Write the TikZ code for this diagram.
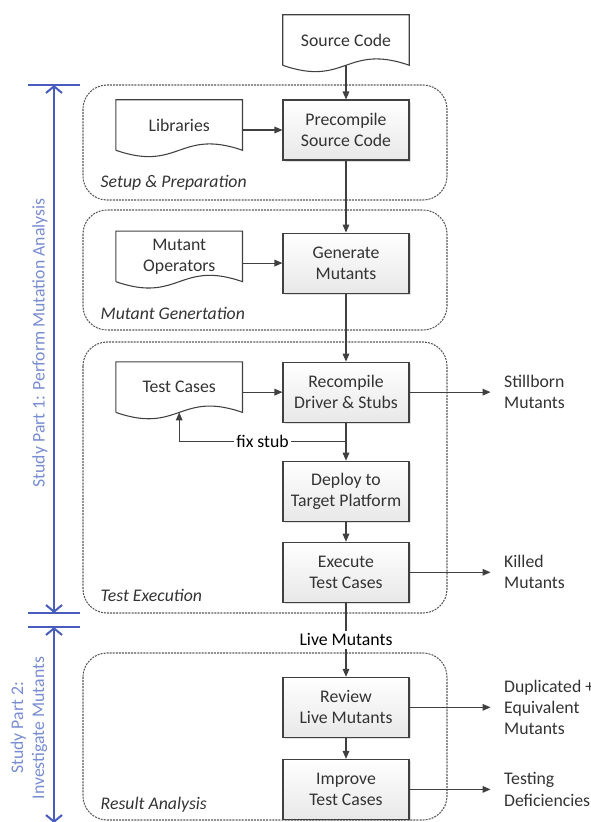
\documentclass[tikz,border=0pt]{standalone}
\usepackage{fontspec}
\setmainfont{Carlito}
\usetikzlibrary{arrows.meta, positioning, calc, shadows}

\definecolor{linegray}{RGB}{64,64,64}
\definecolor{studyblue}{RGB}{72,92,190}
\definecolor{studytext}{RGB}{120,140,210}

% document shape with a wavy bottom edge
\newcommand{\wavedoc}[1]{%
  \draw[docline] (#1.south west) -- (#1.north west) -- (#1.north east) -- (#1.south east)
    .. controls ($(#1.south east)+(-63,-22)$) and ($(#1.south west)+(63,22)$) .. (#1.south west);
}

\begin{document}
\begin{tikzpicture}[
    x=0.75pt, y=-0.75pt,
    >={Triangle[length=6pt,width=5pt]},
    font=\fontsize{13.3}{15.8}\selectfont,
    proc/.style={draw=linegray, thick, top color=white, bottom color=gray!18,
                 minimum width=94.5pt, minimum height=45pt, align=center,
                 inner sep=1pt, text=black!80,
                 drop shadow={shadow xshift=1.2pt, shadow yshift=-1.2pt, opacity=0.25}},
    doc/.style={minimum width=94.5pt, minimum height=37.5pt, align=center,
                inner sep=1pt, text=black!80},
    docline/.style={draw=linegray, thick},
    group/.style={draw=gray!70!black, dash pattern=on 1.5pt off 0.8pt,
                  rounded corners=18pt, line width=0.8pt},
    grouplabel/.style={anchor=west, font=\fontsize{13.3}{15}\selectfont\itshape,
                       text=black!80},
    outcome/.style={anchor=west, align=left, inner xsep=10pt, text=black!80},
    flow/.style={->, draw=linegray, thick},
    span/.style={draw=studyblue, line width=1.5pt},
    spanlabel/.style={rotate=90, text=studytext, align=center}
  ]
  \useasboundingbox (0,0) rectangle (591,822);

  % phase groups
  \draw[group] (83,85) rectangle (447,200);
  \draw[group] (83,210) rectangle (447,330);
  \draw[group] (83,342) rectangle (447,613);
  \draw[group] (83,653) rectangle (447,820);
  \node[grouplabel] (setuplbl) at (96,183) {Setup \& Preparation};
  \node[grouplabel] (genlbl) at (96,313) {Mutant Genertation};
  \node[grouplabel] (exelbl) at (96,595) {Test Execution};
  \node[grouplabel] (reslbl) at (96,805) {Result Analysis};

  % main flow
  \node[doc] (src) at (346,40) {Source Code};
  \node[proc] (pre) at (346,130) {Precompile\\Source Code};
  \node[proc, below=54pt of pre] (gen) {Generate\\Mutants};
  \node[proc, below=51pt of gen] (rec) {Recompile\\Driver \& Stubs};
  \node[proc, below=28.5pt of rec] (dep) {Deploy to\\Target Platform};
  \node[proc, below=15pt of dep] (exe) {Execute\\Test Cases};
  \node[proc, below=55.5pt of exe] (rev) {Review\\Live Mutants};
  \node[proc, below=15.75pt of rev] (imp) {Improve\\Test Cases};

  % inputs
  \node[doc, left=30pt of pre, yshift=3.75pt] (lib) {Libraries};
  \node[doc, left=30pt of gen, yshift=5pt] (mop) {Mutant\\Operators};
  \node[doc, left=30pt of rec, yshift=3.75pt] (tc) {Test Cases};
  \wavedoc{src}
  \wavedoc{lib}
  \wavedoc{mop}
  \wavedoc{tc}

  % outcomes
  \node[outcome, right=60.75pt of rec] (still) {Stillborn\\Mutants};
  \node[outcome, right=60.75pt of exe] (killed) {Killed\\Mutants};
  \node[outcome, right=60.75pt of rev] (dup) {Duplicated +\\Equivalent\\Mutants};
  \node[outcome, right=60.75pt of imp] (defic) {Testing\\Deficiencies};

  \draw[flow] (src) -- (pre);
  \draw[flow] (lib.east |- pre) -- (pre);
  \draw[flow] (pre) -- (gen);
  \draw[flow] (mop.east |- gen) -- (gen);
  \draw[flow] (gen) -- (rec);
  \draw[flow] (tc.east |- rec) -- (rec);
  \draw[flow] (rec) -- (dep);
  \coordinate (fix) at ($(rec.south)!0.5!(dep.north)$);
  \draw[flow] (fix) -- node[fill=white, inner xsep=2pt] (fixlbl) {fix stub} (fix -| tc.south) -- (tc.south);
  \draw[flow] (dep) -- (exe);
  \draw[flow] (exe) -- node[fill=white, inner sep=2pt] (live) {Live Mutants} (rev);
  \draw[flow] (rev) -- (imp);
  \draw[flow] (rec) -- (still);
  \draw[flow] (exe) -- (killed);
  \draw[flow] (rev) -- (dup);
  \draw[flow] (imp) -- (defic);

  % study parts
  \coordinate (p1top) at (54,85);
  \coordinate (p1bot) at (54,613);
  \coordinate (p2top) at (54,627);
  \coordinate (p2bot) at (54,823);
  \draw[span, {Straight Barb[length=5pt,width=12pt]}-{Straight Barb[length=5pt,width=12pt]}]
    (p1top) -- (p1bot);
  \draw[span, {Straight Barb[length=5pt,width=12pt]}-{Straight Barb[length=5pt,width=12pt]}]
    (p2top) -- (p2bot);
  \foreach \c in {p1top,p1bot,p2top,p2bot}
    \draw[span] ($(\c)+(-26,0)$) -- ($(\c)+(26,0)$);
  \node[spanlabel] (p1lbl) at (40,343) {Study Part 1: Perform Mutation Analysis};
  \node[spanlabel] (p2lbl) at (29,728) {Study Part 2:\\Investigate Mutants};
\end{tikzpicture}
\end{document}
